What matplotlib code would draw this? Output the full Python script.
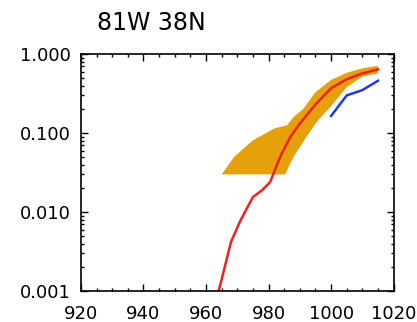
import numpy as np
import matplotlib.pyplot as plt
from matplotlib.ticker import MultipleLocator, LogLocator, NullFormatter, FixedFormatter, FixedLocator

# upper and lower edges of the shaded envelope
band_up_x = [965, 969, 975, 982, 986, 988, 991, 995, 1000, 1005, 1010, 1015]
band_up_y = [0.030, 0.050, 0.081, 0.115, 0.126, 0.16, 0.20, 0.33, 0.47, 0.58, 0.66, 0.71]
band_lo_x = [965, 985.3, 988, 992, 995.5, 1000, 1005, 1010, 1015]
band_lo_y = [0.030, 0.030, 0.050, 0.088, 0.14, 0.22, 0.38, 0.52, 0.57]

# model curve (red)
red_x = [962, 965, 968, 971, 975, 978, 980.5, 982, 984, 987, 990, 995, 1000, 1005, 1010, 1015]
red_y = [0.0005, 0.0014, 0.0042, 0.0078, 0.0155, 0.019, 0.024, 0.034, 0.053, 0.090,
         0.132, 0.23, 0.37, 0.48, 0.57, 0.64]

# observations (blue)
blue_x = [1000, 1005, 1010, 1015]
blue_y = [0.165, 0.30, 0.35, 0.46]

ytick_vals = [0.001, 0.01, 0.1, 1.0]
ytick_labels = ["0.001", "0.010", "0.100", "1.000"]

fig = plt.figure(figsize=(4.17, 3.22), dpi=100)
ax = fig.add_axes([0.194, 0.096, 0.750, 0.736])

poly_x = band_up_x + band_lo_x[::-1]
poly_y = band_up_y + band_lo_y[::-1]
ax.fill(poly_x, poly_y, color="#E6A00A", lw=0)
ax.plot(red_x, red_y, color="#F02020", lw=1.8)
ax.plot(blue_x, blue_y, color="#2038E8", lw=1.8)

ax.set_yscale("log")
ax.set_xlim(920, 1020)
ax.set_ylim(0.001, 1.0)

ax.xaxis.set_major_locator(MultipleLocator(20))
ax.xaxis.set_minor_locator(MultipleLocator(5))
ax.yaxis.set_major_locator(FixedLocator(ytick_vals))
ax.yaxis.set_major_formatter(FixedFormatter(ytick_labels))
ax.yaxis.set_minor_locator(LogLocator(base=10, subs=np.arange(2, 10)))
ax.yaxis.set_minor_formatter(NullFormatter())

ax.tick_params(which="both", direction="in", top=True, right=True, width=1.0)
ax.tick_params(which="major", length=5, labelsize=13)
ax.tick_params(which="minor", length=2.5)
ax.tick_params(axis="x", pad=10)
ax.tick_params(axis="y", pad=7)
for s in ax.spines.values():
    s.set_linewidth(1.2)

fig.text(0.362, 0.928, "81W 38N", fontsize=17, ha="center", va="center")

fig.savefig("out.png", dpi=100)
